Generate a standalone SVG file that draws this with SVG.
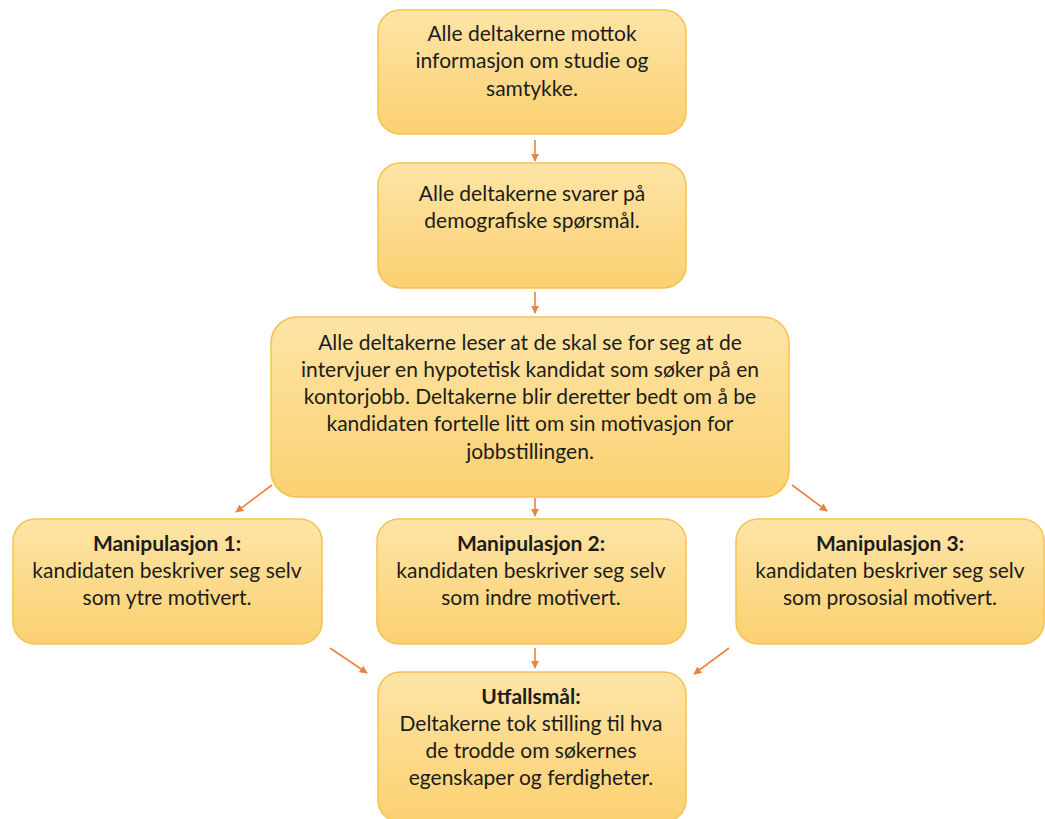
<svg xmlns="http://www.w3.org/2000/svg" width="1045" height="819" viewBox="0 0 1045 819">
<defs>
<linearGradient id="g" x1="0" y1="0" x2="0" y2="1">
<stop offset="0" stop-color="#fde4a6"/>
<stop offset="1" stop-color="#fbd171"/>
</linearGradient>
<marker id="a" viewBox="0 0 10 10" refX="9" refY="5" markerWidth="8" markerHeight="8" orient="auto" markerUnits="userSpaceOnUse">
<path d="M0,0 L10,5 L0,10 z" fill="#ec8240"/>
</marker>
</defs>
<style>
.box{fill:url(#g);stroke:#f6c24e;stroke-width:1.5}
text{font-family:"Lato","Liberation Sans",sans-serif;font-size:21px;fill:#1c1c1c;text-anchor:middle}
.b{font-weight:bold}
.c line{stroke:#ec8240;stroke-width:1.6;marker-end:url(#a)}
</style>
<rect width="1045" height="819" fill="#ffffff"/>
<g class="c" id="connectors">
<line x1="535" y1="140" x2="535" y2="161"/>
<line x1="535" y1="292" x2="535" y2="313"/>
<line x1="272" y1="485" x2="236" y2="512"/>
<line x1="535" y1="498" x2="535" y2="516"/>
<line x1="792" y1="485" x2="827" y2="511"/>
<line x1="330" y1="648" x2="367" y2="673"/>
<line x1="535" y1="648" x2="535" y2="668"/>
<line x1="729" y1="648" x2="694" y2="674"/>
</g>
<g id="n1">
<rect class="box" x="378" y="10" width="308" height="124" rx="22"/>
<text x="532" y="41">Alle deltakerne mottok</text>
<text x="532" y="68">informasjon om studie og</text>
<text x="532" y="96">samtykke.</text>
</g>
<g id="n2">
<rect class="box" x="378" y="163" width="308" height="125" rx="22"/>
<text x="532" y="201">Alle deltakerne svarer på</text>
<text x="532" y="228">demografiske spørsmål.</text>
</g>
<g id="n3">
<rect class="box" x="271" y="317" width="518" height="180" rx="26"/>
<text x="530" y="350">Alle deltakerne leser at de skal se for seg at de</text>
<text x="530" y="377">intervjuer en hypotetisk kandidat som søker på en</text>
<text x="530" y="404">kontorjobb. Deltakerne blir deretter bedt om å be</text>
<text x="530" y="431">kandidaten fortelle litt om sin motivasjon for</text>
<text x="530" y="459">jobbstillingen.</text>
</g>
<g id="n4">
<rect class="box" x="13" y="519" width="309" height="125" rx="22"/>
<text class="b" x="167" y="551">Manipulasjon 1:</text>
<text x="167" y="578">kandidaten beskriver seg selv</text>
<text x="167" y="605">som ytre motivert.</text>
</g>
<g id="n5">
<rect class="box" x="377" y="519" width="309" height="125" rx="22"/>
<text class="b" x="531" y="551">Manipulasjon 2:</text>
<text x="531" y="578">kandidaten beskriver seg selv</text>
<text x="531" y="605">som indre motivert.</text>
</g>
<g id="n6">
<rect class="box" x="736" y="519" width="308" height="125" rx="22"/>
<text class="b" x="890" y="551">Manipulasjon 3:</text>
<text x="890" y="578">kandidaten beskriver seg selv</text>
<text x="890" y="605">som prososial motivert.</text>
</g>
<g id="n7">
<rect class="box" x="378" y="672" width="308" height="150" rx="22"/>
<text class="b" x="531" y="704">Utfallsmål:</text>
<text x="531" y="731">Deltakerne tok stilling til hva</text>
<text x="531" y="758">de trodde om søkernes</text>
<text x="531" y="785">egenskaper og ferdigheter.</text>
</g>
</svg>
